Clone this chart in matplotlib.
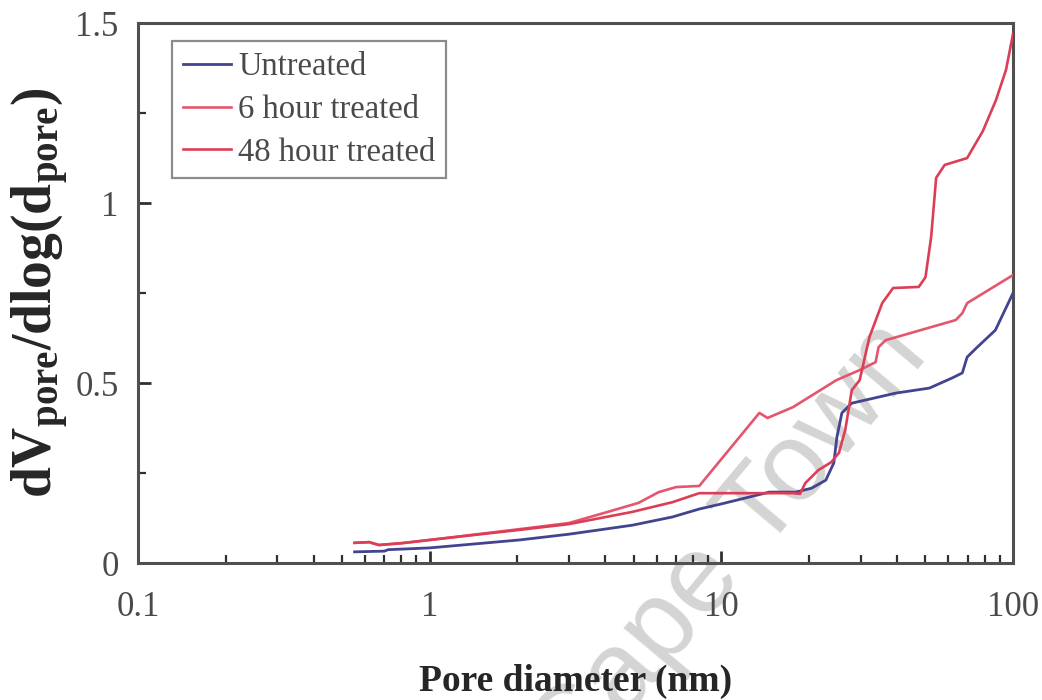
import matplotlib
matplotlib.use("Agg")
import matplotlib.pyplot as plt
from matplotlib.ticker import LogLocator, MultipleLocator, FixedLocator, NullFormatter, FixedFormatter

plt.rcParams['font.family'] = ['Liberation Serif', 'DejaVu Serif']
plt.rcParams['mathtext.fontset'] = 'custom'
plt.rcParams['mathtext.rm'] = 'Liberation Serif'
plt.rcParams['mathtext.bf'] = 'Liberation Serif:bold'
plt.rcParams['mathtext.it'] = 'Liberation Serif:italic'

# Pore size distributions (diameter in nm, dV/dlog(d))
untreated_d = [0.553, 0.70, 0.72, 1.0, 2.03, 3.0, 4.95, 6.8, 8.4, 10.1, 14.6, 18.0,
               20.4, 22.8, 24.3, 24.9, 25.9, 28.0, 39.6, 51.7, 61.8, 67.0, 69.6,
               74.8, 87.0, 100.0]
untreated_v = [0.031, 0.033, 0.037, 0.042, 0.064, 0.080, 0.105, 0.128, 0.150, 0.165,
               0.197, 0.197, 0.208, 0.230, 0.278, 0.350, 0.417, 0.444, 0.472, 0.486,
               0.514, 0.528, 0.572, 0.597, 0.647, 0.750]

h6_d = [0.553, 0.62, 0.67, 0.8, 1.0, 2.03, 3.0, 4.0, 5.2, 6.1, 7.0, 8.4, 13.5, 14.4,
        17.6, 24.8, 29.8, 33.8, 34.6, 36.6, 63.6, 67.0, 69.6, 100.0]
h6_v = [0.056, 0.058, 0.050, 0.055, 0.064, 0.094, 0.111, 0.140, 0.167, 0.197, 0.211,
        0.214, 0.417, 0.403, 0.433, 0.508, 0.536, 0.558, 0.600, 0.619, 0.675, 0.694,
        0.722, 0.800]

h48_d = [0.553, 0.62, 0.67, 0.8, 1.0, 2.03, 3.0, 4.95, 6.8, 8.4, 17.6, 18.6, 19.4,
         21.5, 23.8, 25.3, 26.6, 27.4, 28.0, 29.8, 32.2, 35.6, 38.8, 47.5, 50.1,
         52.4, 54.5, 58.3, 69.6, 78.8, 87.4, 94.6, 100.0]
h48_v = [0.056, 0.058, 0.050, 0.055, 0.064, 0.092, 0.108, 0.142, 0.169, 0.194, 0.194,
         0.192, 0.222, 0.258, 0.280, 0.306, 0.370, 0.433, 0.480, 0.508, 0.628, 0.722,
         0.764, 0.767, 0.794, 0.906, 1.070, 1.106, 1.125, 1.200, 1.286, 1.370, 1.470]

series_labels = ["Untreated", "6 hour treated", "48 hour treated"]
x_ticks = [0.1, 1, 10, 100]
x_tick_labels = ["0.1", "1", "10", "100"]
y_ticks = [0, 0.5, 1, 1.5]
y_tick_labels = ["0", "0.5", "1", "1.5"]

fig = plt.figure(figsize=(10.42, 7.0), dpi=100)
ax = fig.add_axes([0.1324, 0.1957, 0.8398, 0.7713])

ax.plot(untreated_d, untreated_v, color='#43448f', lw=2.0, label=series_labels[0], zorder=3)
ax.plot(h6_d, h6_v, color='#e4566e', lw=1.9, label=series_labels[1], zorder=3)
ax.plot(h48_d, h48_v, color='#dc3e56', lw=1.9, label=series_labels[2], zorder=3)

ax.set_xscale('log')
ax.set_xlim(0.1, 100)
ax.set_ylim(0, 1.5)

ax.xaxis.set_major_locator(FixedLocator(x_ticks))
ax.xaxis.set_major_formatter(FixedFormatter(x_tick_labels))
ax.xaxis.set_minor_locator(LogLocator(base=10, subs=range(2, 10)))
ax.xaxis.set_minor_formatter(NullFormatter())
ax.yaxis.set_major_locator(FixedLocator(y_ticks))
ax.yaxis.set_major_formatter(FixedFormatter(y_tick_labels))
ax.yaxis.set_minor_locator(MultipleLocator(0.25))

spine_c = '#505050'
for s in ax.spines.values():
    s.set_color(spine_c)
    s.set_linewidth(2.2)

ax.tick_params(axis='both', which='both', direction='in', color='#303030',
               top=False, right=False)
ax.tick_params(axis='both', which='major', length=9, width=2.0,
               labelsize=25, labelcolor='#4a4a4a')
ax.tick_params(axis='both', which='minor', length=6, width=1.6)
ax.tick_params(axis='x', which='major', pad=20)
ax.tick_params(axis='y', which='major', pad=14)

ax.set_xlabel("Pore diameter (nm)", fontsize=27, fontweight='bold', color='#262626',
              labelpad=29)
ax.set_ylabel(r"$\mathbf{dV_{pore}/dlog(d_{pore})}$", fontsize=40, color='#262626',
              labelpad=3)

leg = ax.legend(loc='upper left', bbox_to_anchor=(0.039, 0.966), borderaxespad=0,
                fontsize=23.5, frameon=True, fancybox=False, handlelength=1.5,
                handletextpad=0.2, labelspacing=0.37, borderpad=0.32)
leg.get_frame().set_edgecolor('#707070')
leg.get_frame().set_linewidth(1.6)
for t in leg.get_texts():
    t.set_color('#4a4a4a')

# Faint diagonal watermark behind the curves
ax.text(0.70, 0.215, "Cape Town", transform=fig.transFigure, fontsize=80,
        color='#d4d4d4', family=['Liberation Sans', 'DejaVu Sans'], rotation=50,
        rotation_mode='anchor', ha='center', va='center', zorder=0.5, clip_on=False)

fig.savefig("out.png", dpi=100)
